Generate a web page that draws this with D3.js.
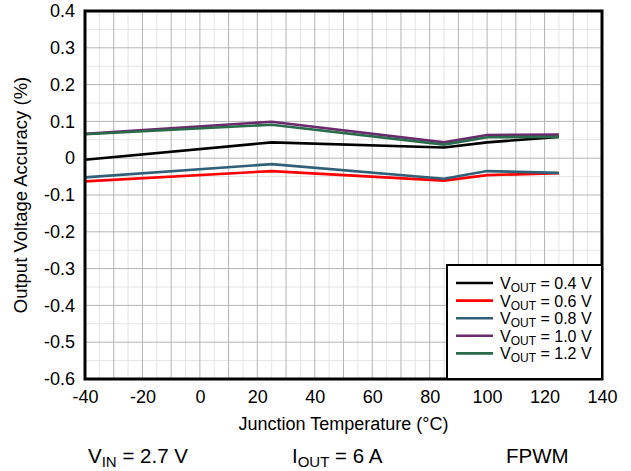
<!DOCTYPE html>
<html>
<head>
<meta charset="utf-8">
<script src="https://cdn.jsdelivr.net/npm/d3@7"></script>
<style>
  body { margin: 0; background: #fff; }
  svg { font-family: "Liberation Sans", Arial, sans-serif; }
</style>
</head>
<body>
<svg id="chart" width="631" height="471"></svg>
<script>
// junction temperature points (°C)
const temps = [-40, 25, 85, 100, 125];

// output voltage accuracy (%) per VOUT setting
const vout04 = [-0.004, 0.043, 0.029, 0.043, 0.058];
const vout06 = [-0.063, -0.035, -0.061, -0.046, -0.041];
const vout08 = [-0.052, -0.016, -0.056, -0.035, -0.040];
const vout10 = [0.066, 0.099, 0.043, 0.063, 0.064];
const vout12 = [0.065, 0.091, 0.037, 0.057, 0.058];

const seriesNames = ["0.4 V", "0.6 V", "0.8 V", "1.0 V", "1.2 V"];
const seriesColors = ["#000000", "#ff0000", "#2f6078", "#6a2a6c", "#2a6b4c"];
const seriesValues = [vout04, vout06, vout08, vout10, vout12];

const xTicks = [-40, -20, 0, 20, 40, 60, 80, 100, 120, 140];
const yTicks = [0.4, 0.3, 0.2, 0.1, 0, -0.1, -0.2, -0.3, -0.4, -0.5, -0.6];

const margin = {top: 11, right: 29, bottom: 92, left: 85};
const width = 631 - margin.left - margin.right;
const height = 471 - margin.top - margin.bottom;

const svg = d3.select("#chart");
const chart = svg.append("g")
    .attr("transform", "translate(" + margin.left + "," + margin.top + ")");

const x = d3.scaleLinear().domain([-40, 140]).range([0, width]);
const y = d3.scaleLinear().domain([-0.6, 0.4]).range([height, 0]);

// minor grid
chart.append("g").selectAll("line")
    .data(d3.range(-40, 141, 5).filter(d => d % 10 !== 0))
    .join("line")
      .attr("x1", d => x(d)).attr("x2", d => x(d))
      .attr("y1", 0).attr("y2", height)
      .attr("stroke", "#e4e4e4");
chart.append("g").selectAll("line")
    .data(d3.range(-60, 41, 5).map(d => d / 100).filter((d, i) => i % 2 === 1))
    .join("line")
      .attr("y1", d => y(d)).attr("y2", d => y(d))
      .attr("x1", 0).attr("x2", width)
      .attr("stroke", "#e4e4e4");

// major grid
chart.append("g").selectAll("line")
    .data(d3.range(-40, 141, 10))
    .join("line")
      .attr("x1", d => x(d)).attr("x2", d => x(d))
      .attr("y1", 0).attr("y2", height)
      .attr("stroke", "#b4b4b4");
chart.append("g").selectAll("line")
    .data(yTicks)
    .join("line")
      .attr("y1", d => y(d)).attr("y2", d => y(d))
      .attr("x1", 0).attr("x2", width)
      .attr("stroke", "#b4b4b4");

// axes (labels only), plain hyphen for negatives like the original
const xAxis = chart.append("g")
    .attr("transform", "translate(0," + height + ")")
    .call(d3.axisBottom(x).tickValues(xTicks).tickSize(0).tickPadding(11).tickFormat(d => String(d)));
const yAxis = chart.append("g")
    .call(d3.axisLeft(y).tickValues(yTicks).tickSize(0).tickPadding(10)
      .tickFormat(d => d === 0 ? "0" : d.toFixed(1)));
[xAxis, yAxis].forEach(a => {
  a.select(".domain").remove();
  a.selectAll("text").attr("font-size", 18).attr("fill", "#000")
    .attr("font-family", "'Liberation Sans', Arial, sans-serif");
});

// lines
const line = d3.line()
    .x((d, i) => x(temps[i]))
    .y(d => y(d));

chart.append("g").selectAll("path")
    .data(seriesValues)
    .join("path")
      .attr("d", line)
      .attr("fill", "none")
      .attr("stroke", (d, i) => seriesColors[i])
      .attr("stroke-width", 2.6);

// frame
chart.append("rect")
    .attr("width", width).attr("height", height)
    .attr("fill", "none").attr("stroke", "#000").attr("stroke-width", 3);

// legend
const legend = chart.append("g")
    .attr("transform", "translate(" + (x(140) - 155) + "," + (y(-0.6) - 114) + ")");
legend.append("rect")
    .attr("width", 155).attr("height", 114)
    .attr("fill", "#fff").attr("stroke", "#000").attr("stroke-width", 2);
const rows = legend.selectAll("g.row")
    .data(seriesNames)
    .join("g")
      .attr("class", "row")
      .attr("transform", (d, i) => "translate(0," + (18 + i * 17.6) + ")");
rows.append("line")
    .attr("x1", 9).attr("x2", 46)
    .attr("stroke", (d, i) => seriesColors[i])
    .attr("stroke-width", 2.6);
const lt = rows.append("text")
    .attr("x", 53).attr("y", 6)
    .attr("font-size", 16);
lt.append("tspan").text("V");
lt.append("tspan").attr("font-size", 12).attr("dy", 3).text("OUT");
lt.append("tspan").attr("dy", -3).text(d => " = " + d);

// axis titles
svg.append("text")
    .attr("x", margin.left + width / 2).attr("y", 430)
    .attr("text-anchor", "middle").attr("font-size", 18)
    .text("Junction Temperature (°C)");
svg.append("text")
    .attr("transform", "translate(27," + (margin.top + height / 2) + ") rotate(-90)")
    .attr("text-anchor", "middle").attr("font-size", 18.5)
    .text("Output Voltage Accuracy (%)");

// conditions below chart
function subLabel(xPos, main, sub, rest) {
  const t = svg.append("text").attr("x", xPos).attr("y", 463).attr("font-size", 20.5);
  t.append("tspan").text(main);
  t.append("tspan").attr("font-size", 15).attr("dy", 4).text(sub);
  t.append("tspan").attr("dy", -4).text(rest);
}
subLabel(88, "V", "IN", " = 2.7 V");
subLabel(292, "I", "OUT", " = 6 A");
svg.append("text").attr("x", 506).attr("y", 463).attr("font-size", 20.5).text("FPWM");
</script>
</body>
</html>
